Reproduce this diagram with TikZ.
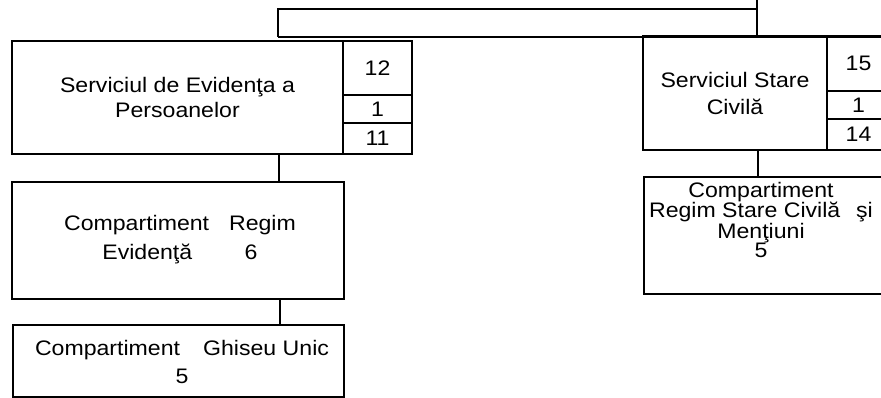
\documentclass[tikz,border=0pt]{standalone}
\usepackage{fontspec}
\setmainfont{Liberation Sans}[FakeStretch=1.1]
\begin{document}
\begin{tikzpicture}[x=1pt,y=-1pt,
  line width=1.7pt,
  box/.style={draw=black,rectangle,inner sep=0pt,outer sep=0pt,align=center,
    font=\fontsize{21}{25.5}\selectfont},
  txt/.style={inner sep=0pt,outer sep=0pt,align=center},
  link/.style={draw=black,line width=1.7pt}]
\useasboundingbox (0,0) rectangle (881,398);
% left service
\node[box,minimum width=331pt,minimum height=113pt] (sep) at (177.5,97.5)
  {Serviciul de Evidenţa a\\Persoanelor};
\node[box,minimum width=69pt,minimum height=54pt] (sepn1) at (377.5,68) {12};
\node[box,minimum width=69pt,minimum height=28pt] (sepn2) at (377.5,109) {1};
\node[box,minimum width=69pt,minimum height=31pt] (sepn3) at (377.5,138.5) {11};
% compartiment regim evidenta
\node[box,minimum width=332pt,minimum height=117pt] (cre) at (178,240.5) {};
\node[txt,font=\fontsize{21}{29}\selectfont] (cret) at (180,240)
  {Compartiment\hspace{0.95em}Regim\\Evidenţă\hspace{2.5em}6};
% ghiseu unic
\node[box,minimum width=331pt,minimum height=72pt] (cgu) at (178.5,361) {};
\node[txt,font=\fontsize{21}{28}\selectfont] (cgut) at (182,362)
  {Compartiment\hspace{1.1em}Ghiseu Unic\\5};
% right service
\node[box,minimum width=184pt,minimum height=114pt,
  font=\fontsize{21}{27}\selectfont] (ssc) at (735,93)
  {Serviciul Stare\\Civilă};
\node[box,minimum width=63pt,minimum height=55pt] (sscn1) at (858.5,63.5) {15};
\node[box,minimum width=63pt,minimum height=28pt] (sscn2) at (858.5,105) {1};
\node[box,minimum width=63pt,minimum height=31pt] (sscn3) at (858.5,134.5) {14};
% compartiment regim stare civila
\node[box,minimum width=252pt,minimum height=117pt] (crsc) at (770,235.5) {};
\node[txt,font=\fontsize{21}{19.3}\selectfont] (crsct) at (761,220)
  {Compartiment\\Regim Stare Civilă\hspace{0.45em} şi\\Menţiuni\\5};
% top connectors
\coordinate (topin) at (757,-2);
\coordinate (topj) at (757,9);
\coordinate (topl) at (278,9);
\coordinate (barl) at (278,37);
\coordinate (barr) at (900,37);
\coordinate (barm) at (757,37);
\draw[link] (topin) -- (barm);
\draw[link] (topj) -- (topl) -- (barl);
\draw[link] (barl) -- (barr);
% vertical connectors
\draw[link] (sep.south -| 279,0) -- (cre.north -| 279,0);
\draw[link] (cre.south -| 280,0) -- (cgu.north -| 280,0);
\draw[link] (ssc.south -| 758,0) -- (crsc.north -| 758,0);
\end{tikzpicture}
\end{document}
